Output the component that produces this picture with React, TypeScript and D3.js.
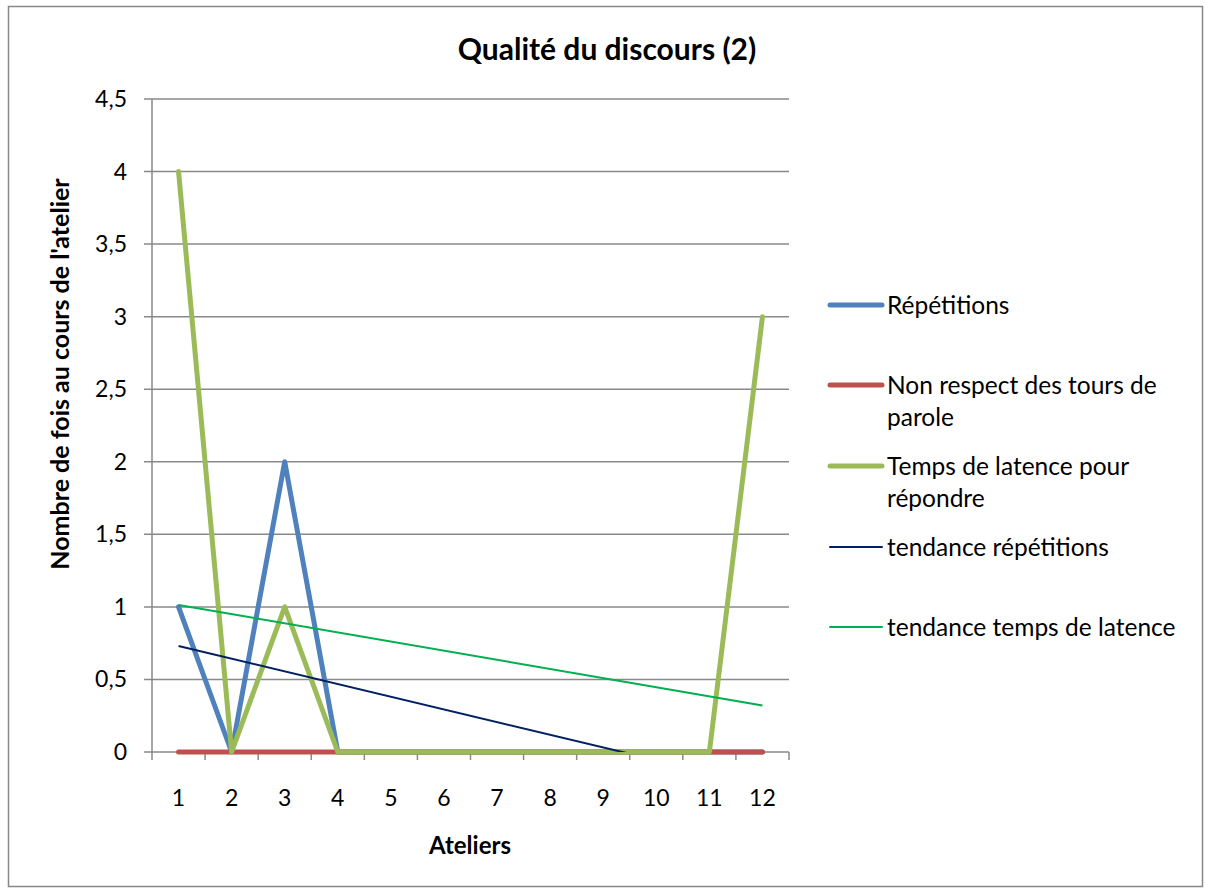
import React from "react";
import * as d3 from "d3";

const ateliers = ["1", "2", "3", "4", "5", "6", "7", "8", "9", "10", "11", "12"];
const repetitions = [1, 0, 2, 0, 0, 0, 0, 0, 0, 0, 0, 0];
const nonRespect = [0, 0, 0, 0, 0, 0, 0, 0, 0, 0, 0, 0];
const latence = [4, 0, 1, 0, 0, 0, 0, 0, 0, 0, 0, 3];
const yTicks = [0, 0.5, 1, 1.5, 2, 2.5, 3, 3.5, 4, 4.5];

const W = 1205;
const H = 889;
const M = { left: 152, right: 789, top: 99, bottom: 752 };
const FONT = "Lato, 'Open Sans', sans-serif";

function regression(vals: number[]) {
  const n = vals.length;
  const xs = vals.map((_, i) => i + 1);
  const mx = d3.mean(xs) as number;
  const my = d3.mean(vals) as number;
  let sxy = 0, sxx = 0;
  xs.forEach((x, i) => { sxy += (x - mx) * (vals[i] - my); sxx += (x - mx) ** 2; });
  const slope = sxy / sxx;
  const b = my - slope * mx;
  return [1, n].map((x) => ({ x, y: b + slope * x }));
}

export default function App() {
  const x = d3.scaleBand<string>().domain(ateliers).range([M.left, M.right]);
  const y = d3.scaleLinear().domain([0, 4.5]).range([M.bottom, M.top]);
  const cx = (i: number) => (x(ateliers[i]) as number) + x.bandwidth() / 2;
  const line = d3.line<number>().x((_, i) => cx(i)).y((d) => y(d));
  const xn = d3.scaleLinear().domain([1, 12]).range([cx(0), cx(11)]);
  const tl = d3.line<{ x: number; y: number }>().x((d) => xn(d.x)).y((d) => y(d.y));
  const trendRep = regression(repetitions);
  const trendLat = regression(latence);
  const boundaries = ateliers.map((a) => x(a) as number).concat([M.right]);

  const series = [
    { name: "Répétitions", data: repetitions, color: "#4F81BD" },
    { name: "Non respect des tours de parole", data: nonRespect, color: "#C0504D" },
    { name: "Temps de latence pour répondre", data: latence, color: "#9BBB59" },
  ];

  const legend = [
    { lines: ["Répétitions"], color: "#4F81BD", w: 5, y: 305 },
    { lines: ["Non respect des tours de", "parole"], color: "#C0504D", w: 5, y: 385 },
    { lines: ["Temps de latence pour", "répondre"], color: "#9BBB59", w: 5, y: 466 },
    { lines: ["tendance répétitions"], color: "#002060", w: 2, y: 547 },
    { lines: ["tendance temps de latence"], color: "#00B050", w: 2, y: 627 },
  ];

  return (
    <svg width={W} height={H} style={{ position: "absolute", left: 0, top: 0, background: "#fff" }} fontFamily={FONT}>
      <defs>
        <clipPath id="plot">
          <rect x={M.left} y={M.top} width={M.right - M.left} height={M.bottom - M.top} />
        </clipPath>
      </defs>
      <rect x={8.5} y={6.5} width={1194} height={880} fill="#fff" stroke="#888" strokeWidth={1.5} />
      <text x={607} y={60} textAnchor="middle" fontSize={30} fontWeight="bold">Qualité du discours (2)</text>

      {yTicks.map((t) => (
        <g key={t}>
          <line x1={M.left - 8} x2={M.right} y1={y(t)} y2={y(t)} stroke="#898989" strokeWidth={1.5} />
          <text x={127} y={y(t)} dy="0.35em" textAnchor="end" fontSize={23}>{String(t).replace(".", ",")}</text>
        </g>
      ))}
      <line x1={M.left} x2={M.left} y1={M.top} y2={M.bottom} stroke="#898989" strokeWidth={1.5} />
      {boundaries.map((b, i) => (
        <line key={i} x1={b} x2={b} y1={M.bottom} y2={M.bottom + 8} stroke="#898989" strokeWidth={1.5} />
      ))}
      {ateliers.map((a, i) => (
        <text key={a} x={cx(i)} y={806} textAnchor="middle" fontSize={23}>{a}</text>
      ))}
      <text x={470} y={854} textAnchor="middle" fontSize={24} fontWeight="bold">Ateliers</text>
      <text transform={`translate(69,${374}) rotate(-90)`} textAnchor="middle" fontSize={25} fontWeight="bold">Nombre de fois au cours de l'atelier</text>

      {series.map((s) => (
        <path key={s.name} d={line(s.data) as string} fill="none" stroke={s.color} strokeWidth={5} strokeLinecap="round" strokeLinejoin="round" />
      ))}
      <g clipPath="url(#plot)">
        <path d={tl(trendRep) as string} fill="none" stroke="#002060" strokeWidth={2} />
        <path d={tl(trendLat) as string} fill="none" stroke="#00B050" strokeWidth={2} />
      </g>

      {legend.map((l) => (
        <g key={l.lines[0]}>
          <line x1={830} x2={882} y1={l.y} y2={l.y} stroke={l.color} strokeWidth={l.w} strokeLinecap="round" />
          {l.lines.map((t, j) => (
            <text key={j} x={887} y={l.y + j * 32} dy="0.35em" fontSize={24.5}>{t}</text>
          ))}
        </g>
      ))}
    </svg>
  );
}
